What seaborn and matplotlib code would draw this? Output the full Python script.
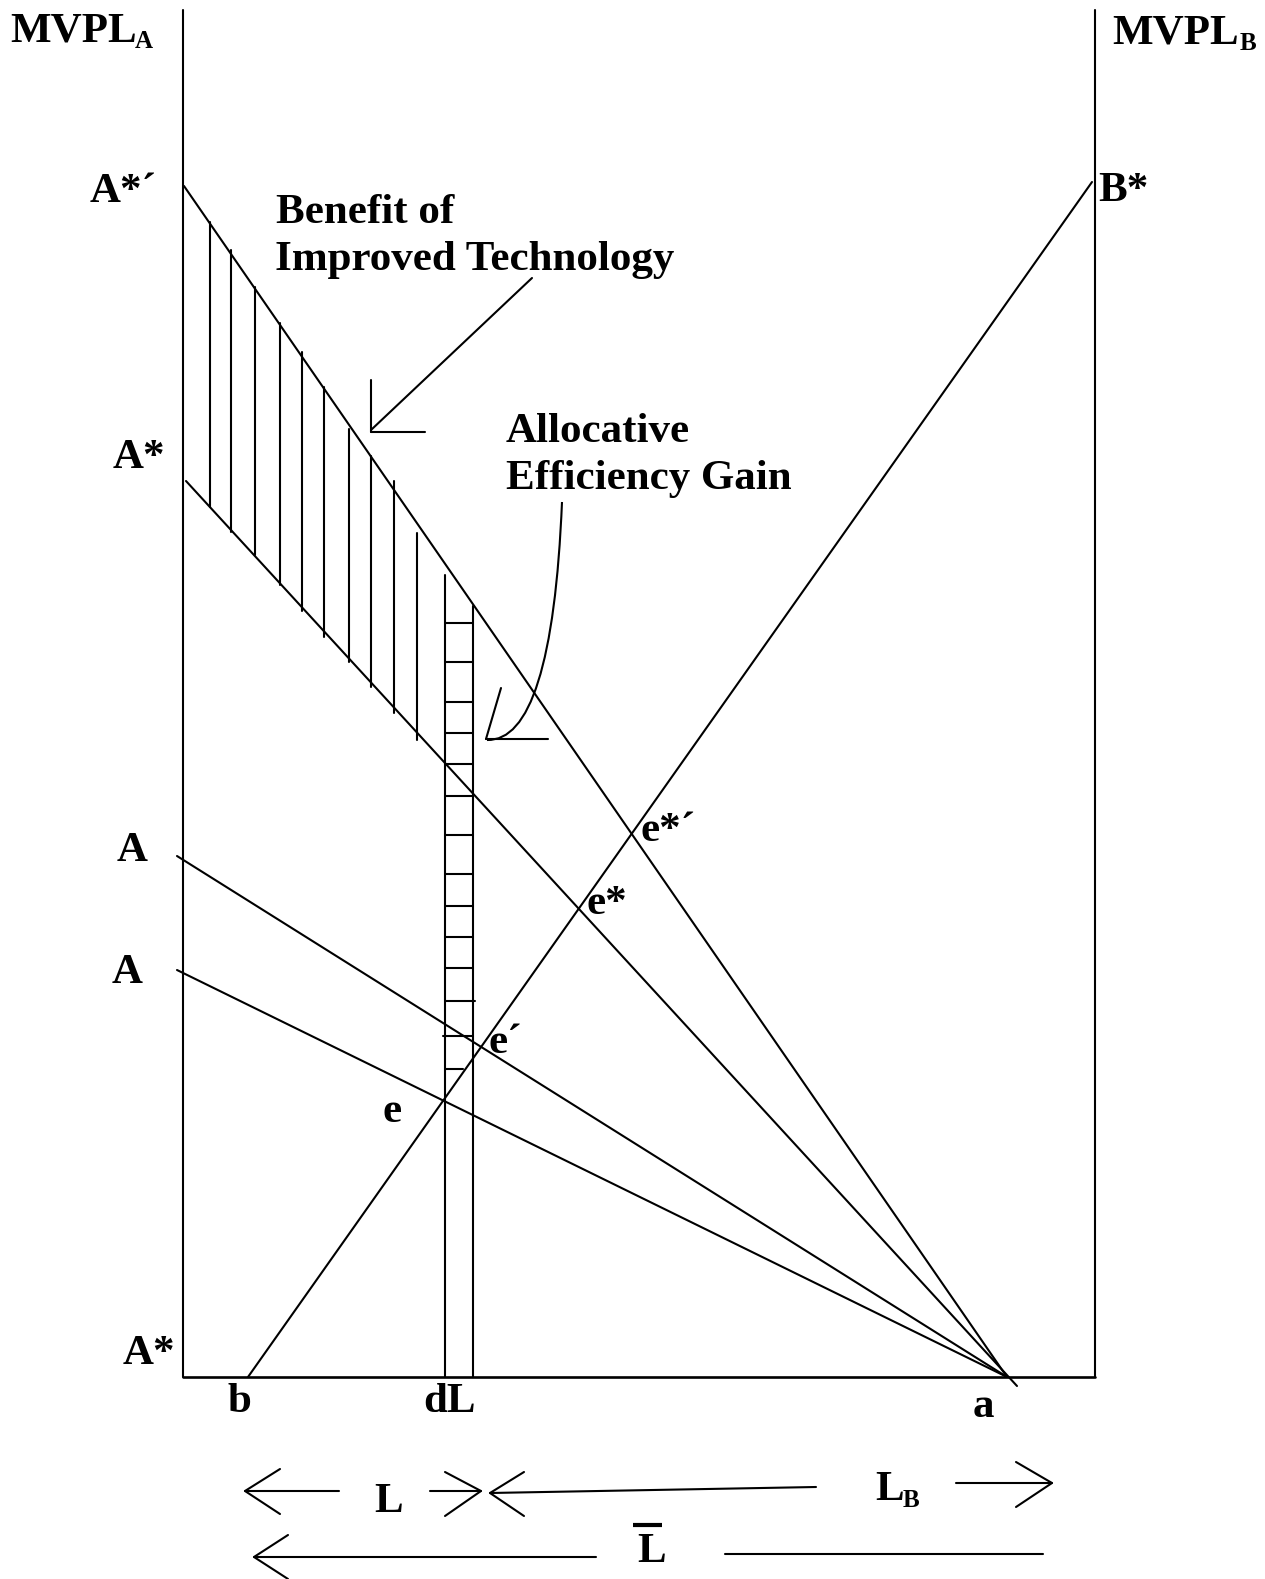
"""
Redraw of the two-sector labour allocation diagram (MVPL_A against MVPL_B)
showing the benefit of improved technology and the allocative efficiency gain.
Everything is laid out in picture pixels, y growing downwards.
"""

import matplotlib.pyplot as plt
import pandas as pd
import seaborn as sns
from matplotlib.path import Path
from matplotlib.patches import PathPatch

# Picture size in pixels
WIDTH, HEIGHT = 1265, 1579

# Box of the diagram: left axis, right axis, floor
axis_x = [[183, 183], [1095, 1095]]
axis_y = [[10, 1377], [10, 1377]]
floor_x = [183, 1095]
floor_y = [1377, 1377]

# MVPL schedules: A*', A*, A (upper), A (lower), B*
curve_names = ["A*'", "A*", "A_upper", "A_lower", "B*"]
curve_x = [[184, 1007], [186, 1017], [177, 1007], [177, 1007], [248, 1092]]
curve_y = [[186, 1377], [481, 1386], [856, 1377], [970, 1377], [1377, 182]]

# Vertical hatching between A*' and A*
hatch_x = [210, 231, 255, 280, 302, 324, 349, 371, 394, 417]
hatch_top = [222, 250, 287, 323, 352, 387, 429, 456, 481, 533]
hatch_bottom = [507, 532, 555, 585, 611, 637, 662, 687, 713, 740]

# The dL strip and its rungs
strip_x = [445, 472.5]
strip_top = [575, 606]
rung_y = [623, 662, 702, 733, 764, 796, 835, 874, 906, 937, 968, 1001,
          1036, 1069]
rung_left = [445, 445, 445, 445, 445, 445, 445, 445, 445, 445, 445, 445,
             443, 445]
rung_right = [472.5, 472.5, 472.5, 472.5, 472.5, 472.5, 472.5, 472.5,
              472.5, 472.5, 472.5, 475, 472.5, 463]

# Pointer of "Benefit of Improved Technology"
pointer_x = [[532, 371], [371, 371], [371, 425]]
pointer_y = [[278, 430], [380, 432], [432, 432]]

# Curved pointer of "Allocative Efficiency Gain" (start, control, end)
bend_x = [562, 552, 487]
bend_y = [502, 742, 740]
bend_head_x = [[501, 486], [486, 548]]
bend_head_y = [[688, 739], [739, 739]]

# Span arrows under the box (L, L_B, L bar)
span_x = [[245, 339], [280, 245, 280], [430, 481], [445, 481, 445],
          [490, 816], [524, 490, 524], [956, 1052], [1016, 1052, 1016],
          [254, 596], [288, 254, 288], [725, 1043]]
span_y = [[1491, 1491], [1469, 1491, 1514], [1491, 1491], [1472, 1491, 1516],
          [1493, 1487], [1472, 1493, 1516], [1483, 1483], [1462, 1483, 1507],
          [1557, 1557], [1535, 1557, 1579], [1554, 1554]]
bar_x = [633, 662]
bar_y = [1525, 1525]

# Labels: text, left x, baseline y, font size
label_text = ["MVPL", "A", "MVPL", "B", "A*\u00b4", "B*", "Benefit of",
              "Improved Technology", "A*", "Allocative", "Efficiency Gain",
              "A", "A", "e*\u00b4", "e*", "e\u00b4", "e", "A*", "b", "dL", "a",
              "L", "L", "B", "L"]
label_x = [10, 135, 1112, 1240, 90, 1098, 276, 275, 113, 506, 506, 117, 112,
           641, 586, 489, 383, 123, 228, 423, 973, 374, 875, 903, 637]
label_y = [42, 48.5, 43, 50, 202, 201, 223, 270, 468, 442, 489, 861, 983,
           841, 914, 1053, 1122, 1364, 1412, 1412, 1417, 1512, 1500, 1507,
           1562]
label_size = [31, 18, 31, 18, 31, 31, 31, 31, 31, 31, 31, 31, 31, 31, 31, 31,
              31, 31, 31, 31, 31, 31, 31, 18, 31]


def to_frame(xs, ys, prefix):
    """Stack a list of polylines into one long frame with a unit column."""
    rows = []
    for i, (seg_x, seg_y) in enumerate(zip(xs, ys)):
        for x, y in zip(seg_x, seg_y):
            rows.append({'x': x, 'y': y, 'seg': f'{prefix}{i}'})
    return pd.DataFrame(rows)


def build_segments():
    """Collect every straight stroke of the diagram into one frame."""
    hatch_xs = [[x, x] for x in hatch_x]
    hatch_ys = [[t, b] for t, b in zip(hatch_top, hatch_bottom)]
    strip_xs = [[x, x] for x in strip_x]
    strip_ys = [[t, floor_y[0]] for t in strip_top]
    rung_xs = [[l, r] for l, r in zip(rung_left, rung_right)]
    rung_ys = [[y, y] for y in rung_y]

    parts = [
        to_frame(axis_x, axis_y, 'axis'),
        to_frame(curve_x, curve_y, 'curve'),
        to_frame(hatch_xs, hatch_ys, 'hatch'),
        to_frame(strip_xs, strip_ys, 'strip'),
        to_frame(rung_xs, rung_ys, 'rung'),
        to_frame(pointer_x, pointer_y, 'pointer'),
        to_frame(bend_head_x, bend_head_y, 'head'),
        to_frame(span_x, span_y, 'span'),
    ]
    return pd.concat(parts, ignore_index=True)


def plot_diagram():
    """Draw the whole diagram and save it as out.png."""
    sns.set_theme(style='white')
    plt.rcParams['font.family'] = ['Liberation Serif', 'DejaVu Serif']

    fig = plt.figure(figsize=(WIDTH / 100, HEIGHT / 100), dpi=100)
    ax = fig.add_axes([0, 0, 1, 1])

    segments = build_segments()
    sns.lineplot(data=segments, x='x', y='y', units='seg', estimator=None,
                 sort=False, color='black', linewidth=1.5, ax=ax,
                 legend=False)

    # floor of the box is a touch heavier
    sns.lineplot(x=floor_x, y=floor_y, color='black', linewidth=1.9, ax=ax)

    # curved pointer
    bend = Path(list(zip(bend_x, bend_y)),
                [Path.MOVETO, Path.CURVE3, Path.CURVE3])
    ax.add_patch(PathPatch(bend, facecolor='none', edgecolor='black',
                           linewidth=1.5))

    # bar over the total labour L
    ax.plot(bar_x, bar_y, color='black', linewidth=3, solid_capstyle='butt')

    for text, x, y, size in zip(label_text, label_x, label_y, label_size):
        ax.text(x, y, text, fontsize=size, fontweight='bold', ha='left',
                va='baseline', color='black')

    ax.set_xlim(0, WIDTH)
    ax.set_ylim(HEIGHT, 0)
    ax.axis('off')

    fig.savefig('out.png', dpi=100, facecolor='white')
    plt.close(fig)


def main():
    """Entry point."""
    plot_diagram()


if __name__ == '__main__':
    main()
